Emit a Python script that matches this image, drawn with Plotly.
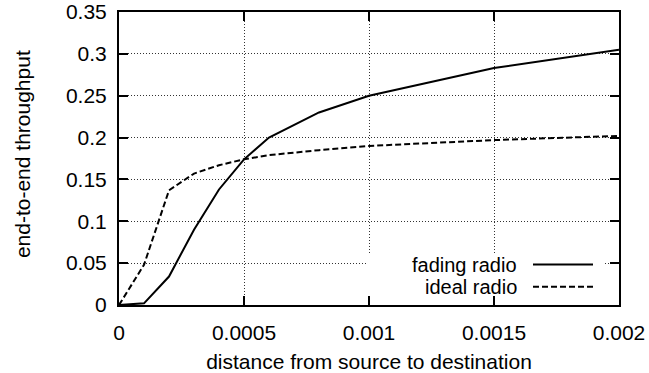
import plotly.graph_objects as go

# distance from source to destination
distance = [0, 0.0001, 0.0002, 0.0003, 0.0004, 0.0005, 0.0006, 0.0008, 0.001, 0.0015, 0.002]
# end-to-end throughput for each radio model
fading_radio = [0, 0.002, 0.034, 0.090, 0.138, 0.174, 0.200, 0.230, 0.250, 0.283, 0.305]
ideal_radio = [0, 0.048, 0.137, 0.157, 0.167, 0.174, 0.179, 0.185, 0.190, 0.197, 0.202]

x_ticks = [0, 0.0005, 0.001, 0.0015, 0.002]
x_tick_labels = ["0", "0.0005", "0.001", "0.0015", "0.002"]
y_ticks = [0, 0.05, 0.1, 0.15, 0.2, 0.25, 0.3, 0.35]
y_tick_labels = ["0", "0.05", "0.1", "0.15", "0.2", "0.25", "0.3", "0.35"]

series = [
    ("fading radio", fading_radio, "solid"),
    ("ideal radio", ideal_radio, "6px,3px"),
]

FONT = "Liberation Sans, Arial, Helvetica, sans-serif"
FS = 21

fig = go.Figure()
for name, values, dash in series:
    fig.add_trace(go.Scatter(
        x=distance, y=values, mode="lines", name=name,
        line=dict(color="black", width=2, dash=dash),
        showlegend=False, cliponaxis=False,
    ))

axis_common = dict(
    showline=True, linecolor="black", linewidth=2, mirror="allticks",
    ticks="inside", ticklen=9, tickwidth=1.5, tickcolor="black",
    showgrid=True, gridcolor="#333", gridwidth=1, griddash="1px,2px",
    zeroline=False, automargin=False,
    tickfont=dict(family=FONT, size=FS, color="black"),
)

fig.update_xaxes(
    range=[0, 0.002], tickvals=x_ticks, ticktext=x_tick_labels,
    ticklabelstandoff=8,
    title=dict(text="distance from source to destination",
               font=dict(family=FONT, size=FS, color="black"), standoff=12),
    **axis_common,
)
fig.update_yaxes(
    range=[0, 0.35], tickvals=y_ticks, ticktext=y_tick_labels,
    ticklabelstandoff=6,
    **axis_common,
)

annotations = [
    # y-axis title, set at a fixed spot left of the tick labels
    dict(xref="paper", yref="paper", x=-0.194, y=0.515, text="end-to-end throughput",
         textangle=-90, showarrow=False, xanchor="center", yanchor="middle",
         font=dict(family=FONT, size=FS, color="black")),
]

# key: opaque box hiding the grid, text on the left, line samples on the right
shapes = [
    dict(type="rect", xref="x", yref="y", x0=0.000992, x1=0.001944, y0=0, y1=0.0615,
         fillcolor="white", line=dict(width=0), layer="between"),
]
key_rows = [0.138, 0.062]
for (name, _, dash), ky in zip(series, key_rows):
    shapes.append(dict(type="line", xref="paper", yref="paper",
                       x0=0.828, x1=0.948, y0=ky, y1=ky,
                       line=dict(color="black", width=2, dash=dash)))
    annotations.append(dict(xref="paper", yref="paper", x=0.798, y=ky,
                            text=name, showarrow=False, xanchor="right",
                            yanchor="middle", borderpad=0,
                            font=dict(family=FONT, size=FS - 1, color="black")))

fig.update_layout(
    width=649, height=373,
    margin=dict(l=119, r=30, t=12, b=68),
    paper_bgcolor="white", plot_bgcolor="white",
    shapes=shapes, annotations=annotations,
    font=dict(family=FONT, size=FS, color="black"),
)

fig.write_html("out.html")
